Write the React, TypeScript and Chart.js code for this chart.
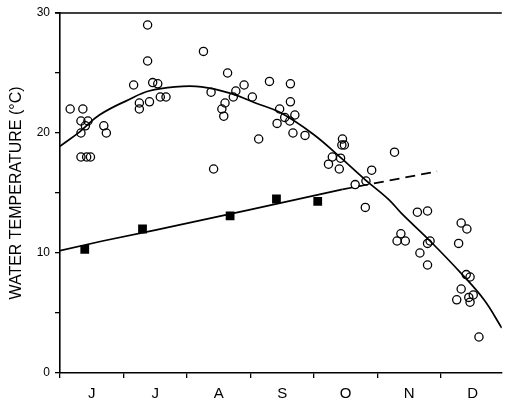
import { useEffect, useRef } from 'react';
import { Chart, registerables } from 'chart.js';

Chart.register(...registerables);

// Months June..December; x is measured in months from 1 June
const monthLabels = ['J', 'J', 'A', 'S', 'O', 'N', 'D'];
const yLabelValues = [0, 10, 20, 30];

// Individual water temperature readings (open circles)
const obsX = [
  0.16, 0.36, 0.33, 0.44, 0.4, 0.33, 0.69, 0.73, 0.33, 0.42, 0.48,
  1.16, 1.25, 1.25, 1.38, 1.38, 1.41, 1.46, 1.54, 1.58, 1.67,
  2.26, 2.38, 2.42, 2.55, 2.6, 2.58, 2.64, 2.73, 2.77, 2.9,
  3.03, 3.13, 3.3, 3.63, 3.63, 3.46, 3.54, 3.7, 3.42, 3.62, 3.67, 3.86,
  4.45, 4.48, 4.44, 4.29, 4.42, 4.23, 4.4, 5.27, 4.91, 4.82, 4.65, 4.81,
  5.63, 5.79, 6.32, 6.41, 5.37, 5.31, 5.44, 6.28, 5.79, 5.83, 5.67, 5.79,
  6.4, 6.46, 6.32, 6.25, 6.44, 6.51, 6.46, 6.6,
];
const obsY = [
  22.0, 22.0, 21.0, 21.0, 20.6, 20.0, 20.6, 20.0, 18.0, 18.0, 18.0,
  24.0, 22.5, 22.0, 29.0, 26.0, 22.6, 24.2, 24.1, 23.0, 23.0,
  26.8, 23.4, 17.0, 22.0, 22.5, 21.4, 25.0, 23.0, 23.5, 24.0,
  23.0, 19.5, 24.3, 24.1, 22.6, 22.0, 21.3, 21.5, 20.8, 21.0, 20.0, 19.8,
  19.5, 19.0, 19.0, 18.0, 17.9, 17.4, 17.0, 18.4, 16.9, 16.0, 15.7, 13.8,
  13.4, 13.5, 12.5, 12.0, 11.6, 11.0, 11.0, 10.8, 10.8, 11.0, 10.0, 9.0,
  8.2, 8.0, 7.0, 6.1, 6.3, 6.5, 5.9, 3.0,
];

// Monthly means of another series (filled squares)
const meanX = [0.39, 1.3, 2.68, 3.41, 4.06];
const meanY = [10.3, 12.0, 13.1, 14.5, 14.3];

// Smooth fitted curve through the readings
const fitX = [0, 0.31, 0.62, 1.09, 1.4, 1.81, 2.23, 2.69, 3.08, 3.47, 3.99, 4.4, 4.81, 5.18, 5.38, 5.83, 6.32, 6.68, 6.96];
const fitY = [18.9, 20.1, 21.5, 22.8, 23.5, 23.85, 23.85, 23.3, 22.5, 21.7, 19.9, 18.05, 16.1, 14.45, 13.3, 11.0, 8.3, 6.1, 3.75];

// Trend line through the squares (solid) and its extrapolation (dashed)
const trendX = [0, 0.67, 1.5, 2.98, 4.45];
const trendY = [10.2, 11.0, 11.9, 13.6, 15.3];
const extX = [4.45, 5.94];
const extY = [15.3, 16.8];

const pts = (xs: number[], ys: number[]) => xs.map((x, i) => ({ x, y: ys[i] }));

const topBorder = {
  id: 'topBorder',
  afterDatasetsDraw(chart: any) {
    const { ctx, chartArea } = chart;
    ctx.save();
    ctx.strokeStyle = '#000';
    ctx.lineWidth = 1.6;
    ctx.beginPath();
    ctx.moveTo(chartArea.left - 5, chartArea.top);
    ctx.lineTo(chartArea.right, chartArea.top);
    ctx.stroke();
    ctx.restore();
  },
};

export default function App() {
  const ref = useRef<HTMLCanvasElement>(null);

  useEffect(() => {
    document.body.style.margin = '0';
    if (!ref.current) return;
    Chart.defaults.font.family = '"Liberation Sans", Arial, Helvetica, sans-serif';
    Chart.defaults.color = '#000';
    const chart = new Chart(ref.current, {
      type: 'scatter',
      data: {
        datasets: [
          {
            label: 'fit',
            data: pts(fitX, fitY),
            showLine: true,
            borderColor: '#000',
            borderWidth: 1.7,
            pointRadius: 0,
            tension: 0.4,
            order: 1,
          },
          {
            label: 'trend',
            data: pts(trendX, trendY),
            showLine: true,
            borderColor: '#000',
            borderWidth: 1.7,
            pointRadius: 0,
            tension: 0,
            order: 1,
          },
          {
            label: 'extrapolation',
            data: pts(extX, extY),
            showLine: true,
            borderColor: '#000',
            borderWidth: 1.7,
            borderDash: [10, 6],
            pointRadius: 0,
            tension: 0,
            order: 1,
          },
          {
            label: 'readings',
            data: pts(obsX, obsY),
            pointStyle: 'circle',
            pointRadius: 4.1,
            pointBorderWidth: 1.3,
            borderColor: '#000',
            backgroundColor: 'rgba(0,0,0,0)',
            order: 2,
          },
          {
            label: 'means',
            data: pts(meanX, meanY),
            pointStyle: 'rect',
            pointRadius: 6.2,
            pointBorderWidth: 0,
            borderColor: '#000',
            backgroundColor: '#000',
            order: 2,
          },
        ],
      },
      options: {
        animation: false,
        responsive: false,
        layout: { padding: { top: 13, right: 0, left: 0, bottom: 0 } },
        plugins: {
          legend: { display: false },
          tooltip: { enabled: false },
        },
        scales: {
          x: {
            type: 'linear',
            min: 0,
            max: 6.96,
            afterBuildTicks: (scale: any) => {
              const t = [];
              for (let i = 0; i < 7; i++) {
                t.push({ value: i });
                t.push({ value: i + 0.5 });
              }
              scale.ticks = t;
            },
            afterFit: (scale: any) => {
              scale.height = 29;
            },
            ticks: {
              autoSkip: false,
              maxRotation: 0,
              padding: 7,
              font: { size: 15 },
              callback: (v: any) => (Number.isInteger(v) ? '' : monthLabels[Math.floor(v)]),
            },
            grid: {
              drawOnChartArea: false,
              drawTicks: true,
              tickLength: 5,
              lineWidth: 1.3,
              color: (ctx: any) => (ctx.tick && Number.isInteger(ctx.tick.value) ? '#000' : 'rgba(0,0,0,0)'),
            },
            border: { display: true, color: '#000', width: 1.6 },
          },
          y: {
            type: 'linear',
            min: 0,
            max: 30,
            afterFit: (scale: any) => {
              scale.width = 60;
            },
            ticks: {
              stepSize: 5,
              padding: 5,
              font: { size: 12 },
              callback: (v: any) => (yLabelValues.includes(v) ? String(v) : ''),
            },
            grid: {
              drawOnChartArea: false,
              drawTicks: true,
              tickLength: 5,
              lineWidth: 1.3,
              color: '#000',
            },
            border: { display: true, color: '#000', width: 1.6 },
            title: {
              display: true,
              text: 'WATER TEMPERATURE (°C)',
              font: { size: 16, lineHeight: 1.2 },
              padding: { top: 7, bottom: 0 },
              color: '#000',
            },
          },
        },
      },
      plugins: [topBorder],
    });
    return () => chart.destroy();
  }, []);

  return (
    <div style={{ width: 508, height: 402 }}>
      <canvas ref={ref} width={508} height={402} />
    </div>
  );
}
